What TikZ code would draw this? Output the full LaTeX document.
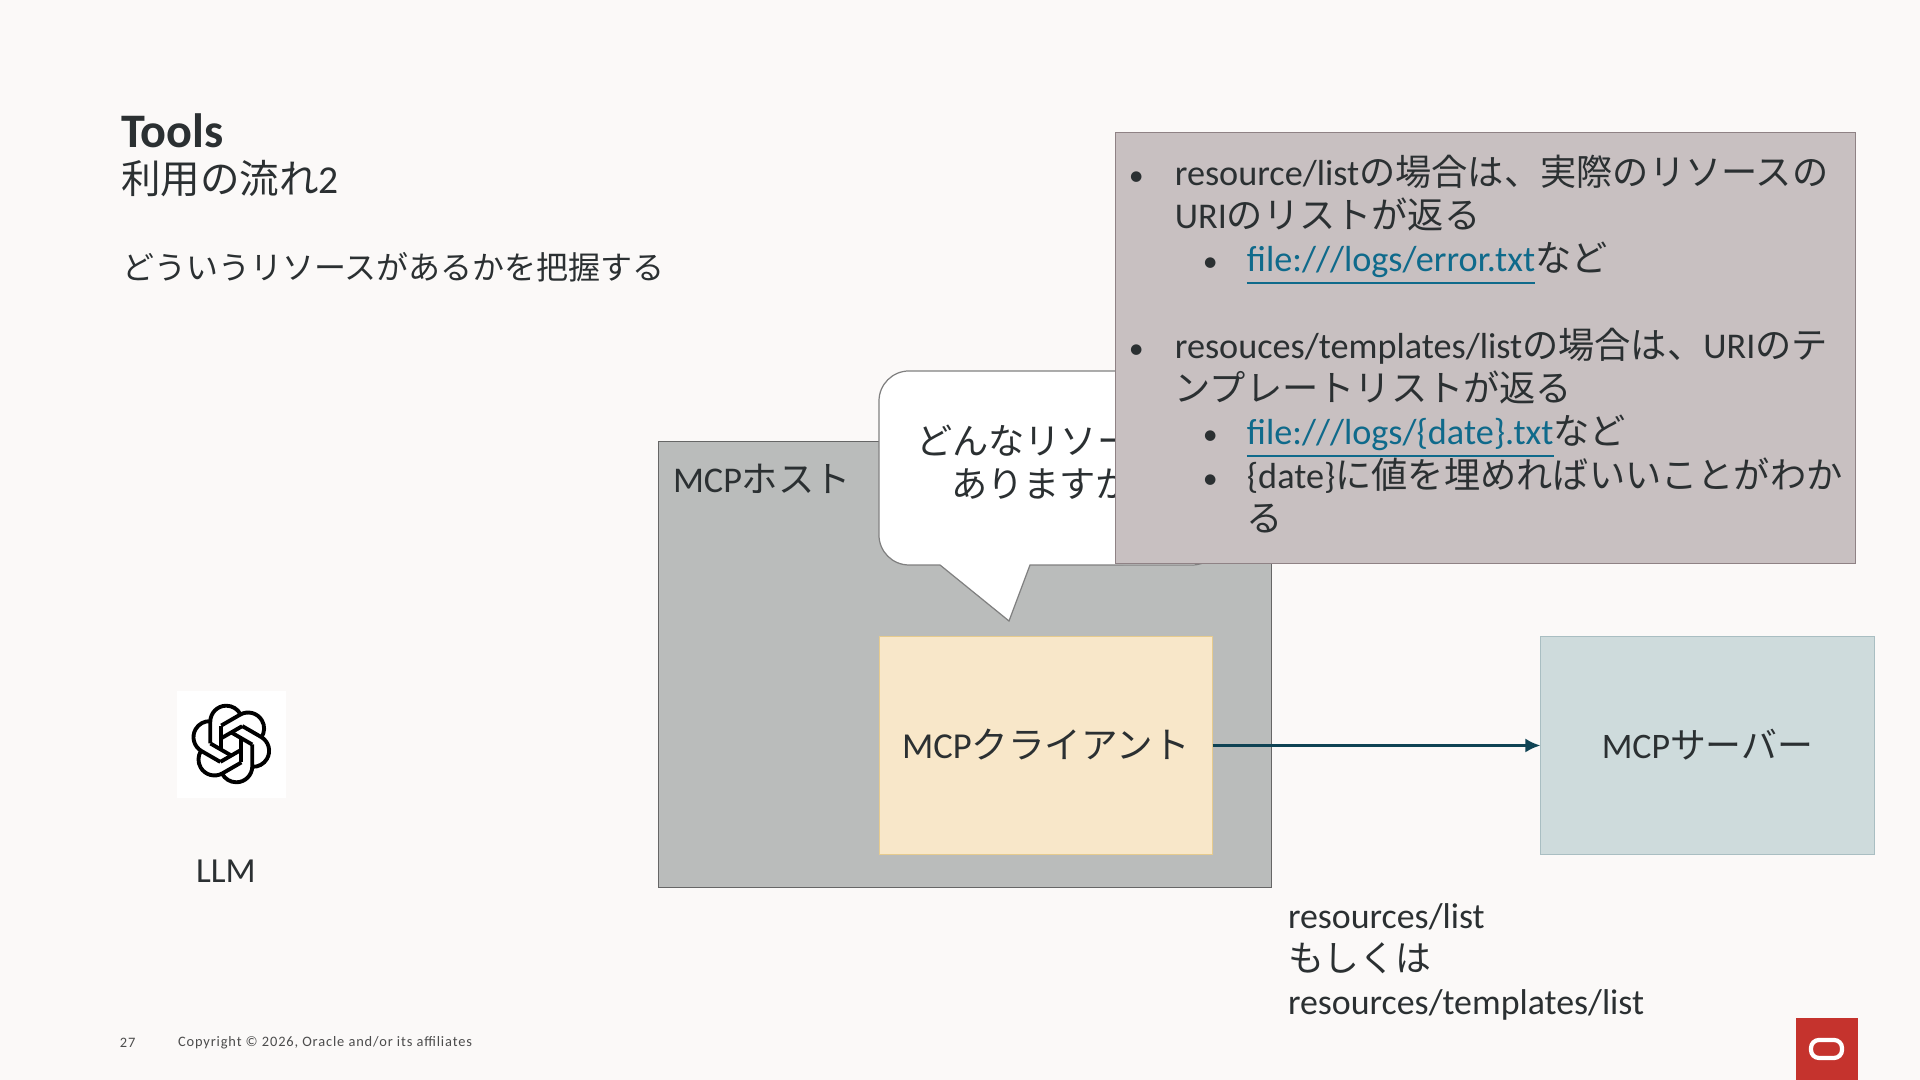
\documentclass[tikz,border=0pt]{standalone}
\usepackage{fontspec}
\usepackage{xcolor}
\usetikzlibrary{positioning, arrows.meta}
\setmainfont{Carlito}
\newfontfamily\jpfont{Noto Sans CJK JP}
\newfontfamily\footfont[LetterSpace=6]{Carlito}
\newcommand{\jp}[1]{{\jpfont #1}}
\definecolor{slidebg}{HTML}{FBF9F8}
\definecolor{inktext}{HTML}{2B3032}
\definecolor{linkblue}{HTML}{0F6A8B}
\definecolor{wireteal}{HTML}{0F4354}
\definecolor{hostfill}{HTML}{BABCBB}
\definecolor{clientfill}{HTML}{F8E7C9}
\definecolor{clientline}{HTML}{E6CB8E}
\definecolor{serverfill}{HTML}{CEDBDC}
\definecolor{serverline}{HTML}{A9BEC2}
\definecolor{notefill}{HTML}{C8C0C1}
\definecolor{noteline}{HTML}{8F8285}
\definecolor{oraclered}{HTML}{C5332D}
\newcommand{\linktext}[1]{\textcolor{linkblue}{\smash{\underline{\smash{#1}\rule[-.17em]{0pt}{0pt}}}}}
\newcommand{\bul}{{\fontsize{8.5}{8.5}\selectfont •}}
\newcommand{\mainbul}{\hspace*{-.02cm}\makebox[.46cm][l]{\bul}}
\newcommand{\subbul}{\hspace*{.72cm}\makebox[.44cm][l]{\bul}}
\newcommand{\maincont}{\hspace*{.44cm}}
\newcommand{\subcont}{\hspace*{1.16cm}}

\begin{document}
\begin{tikzpicture}[
    x=0.01cm, y=-0.01cm,
    every node/.style={text=inktext, outer sep=0pt},
    body/.style={font=\fontsize{10.3}{12.3}\selectfont},
    textlabel/.style={body, anchor=west, inner sep=0pt},
    hostbox/.style={draw=black!60, line width=.35pt, fill=hostfill, minimum width=6.13cm, minimum height=4.46cm},
    clientbox/.style={draw=clientline, line width=.4pt, fill=clientfill, minimum width=3.33cm, minimum height=2.18cm, body},
    serverbox/.style={draw=serverline, line width=.4pt, fill=serverfill, minimum width=3.34cm, minimum height=2.18cm, body},
    notebox/.style={draw=noteline, line width=.35pt, fill=notefill, minimum width=7.39cm, minimum height=4.31cm},
    notetext/.style={body, text width=7.09cm, inner xsep=.16cm, inner ysep=0pt, align=left},
    bubble/.style={draw=black!50, line width=.35pt, fill=white},
    arr/.style={-{Latex[length=1.5mm, width=1.4mm]}, wireteal, line width=.7pt}
]
    \fill[slidebg] (0,0) rectangle (1920,1080);
    \useasboundingbox (0,0) rectangle (1920,1080);

    % headings
    \node[anchor=west, inner sep=0pt, font=\bfseries\fontsize{13.7}{15}\selectfont] (title) at (121,131) {Tools};
    \node[anchor=west, inner sep=0pt, font=\fontsize{11.25}{13}\selectfont] (subtitle) at (121,179) {\jp{利用の流れ}2};
    \node[anchor=west, inner sep=0pt, font=\fontsize{9.1}{11}\selectfont] (lead) at (122,267) {\jp{どういうリソースがあるかを把握する}};

    % LLM logo
    \node[fill=white, minimum width=1.09cm, minimum height=1.07cm] (logo) at (231.5,744.5) {};
    \begin{scope}[shift={(231.3,744)}, y=0.01cm, line width=1.1pt, line join=round]
        \foreach \i in {0,60,...,300} {
            \draw[rotate=\i] (-21,0.5) -- (-21,22.3) arc[start angle=180, end angle=27, radius=16];
            \draw[rotate=\i] (-10,18.3) -- (-10,-5.7);
        }
    \end{scope}
    \node[textlabel, font=\fontsize{10}{12}\selectfont] (llm) at (196,871) {LLM};

    % boxes
    \node[hostbox] (host) at (965,664.5) {};
    \node[textlabel] (hostlabel) at (673,479) {MCP\jp{ホスト}};
    \draw[bubble] (909,371) -- (1192,371) arc[start angle=90, end angle=0, radius=.3cm]
        -- (1222,535) arc[start angle=0, end angle=-90, radius=.3cm]
        -- (1030,565) -- (1009,621) -- (940,565) -- (909,565)
        arc[start angle=270, end angle=180, radius=.3cm]
        -- (879,401) arc[start angle=180, end angle=90, radius=.3cm] -- cycle;
    \node[anchor=west, inner sep=0pt, align=left, font=\fontsize{10.3}{12.3}\selectfont] (ask) at (916,462)
        {\jp{どんなリソー}\\\hspace*{.35cm}\jp{ありますか}};
    \node[clientbox, font=\fontsize{10.4}{12}\selectfont] (client) at (1046,745.5) {\raisebox{.025cm}{MCP\jp{クライアント}}};
    \node[serverbox, font=\fontsize{10.2}{12}\selectfont] (server) at (1707.5,745.5) {\raisebox{.025cm}{MCP\jp{サーバー}}};
    \draw[arr] (client) -- (server);

    % note on top
    \node[notebox] (note) at (1485.5,348) {};
    \node[notetext] (notebody) at (1485.5,344) {%
        \mainbul resource/list\jp{の場合は、実際のリソースの}\\
        \maincont URI\jp{のリストが返る}\\
        \subbul\linktext{file:///logs/error.txt}\jp{など}\\
        \mbox{}\\
        \mainbul resouces/templates/list\jp{の場合は、}URI\jp{のテ}\\
        \maincont\jp{ンプレートリストが返る}\\
        \subbul\linktext{file:///logs/\{date\}.txt}\jp{など}\\
        \subbul\{date\}\jp{に値を埋めればいいことがわか}\\
        \subcont\jp{る}};

    \node[textlabel, align=left, font=\fontsize{10.2}{12.3}\selectfont] (method) at (1288,962)
        {resources/list\\\jp{もしくは}\\resources/templates/list};

    % footer
    \node[anchor=west, inner sep=0pt, text=black!70, font=\footfont\fontsize{4.1}{5}\selectfont] (pageno) at (120,1043) {27};
    \node[anchor=west, inner sep=0pt, text=black!70, font=\footfont\fontsize{4.1}{5}\selectfont] (copyright) at (178,1043) {Copyright © 2026, Oracle and/or its affiliates};

    % oracle mark
    \node[fill=oraclered, minimum width=.62cm, minimum height=.62cm] (mark) at (1827,1049) {};
    \node[draw=white, line width=1.2pt, rounded corners=.08cm, minimum width=.31cm, minimum height=.18cm, inner sep=0pt] (markring) at (1826.5,1049) {};
\end{tikzpicture}
\end{document}
